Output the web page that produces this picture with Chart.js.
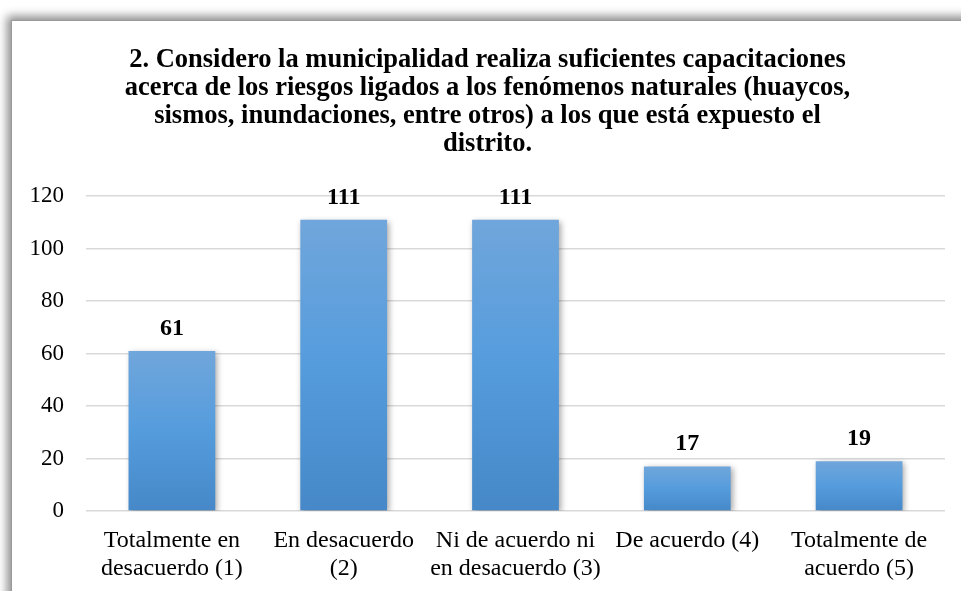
<!DOCTYPE html>
<html>
<head>
<meta charset="utf-8">
<script src="https://cdn.jsdelivr.net/npm/chart.js@4"></script>
<style>
  html, body { margin: 0; padding: 0; background: #fff; }
  body { width: 961px; height: 591px; position: relative; overflow: hidden; }
  /* frame with the soft shadow on top / left */
  #frame {
    position: absolute; left: 11px; top: 20px; width: 1000px; height: 700px;
    border: 1px solid #9a9a9a; background: #fff;
    box-shadow: -4px -4px 9px rgba(0,0,0,0.45);
  }
  #wrap { position: absolute; left: 0; top: 0; width: 961px; height: 591px; }
</style>
</head>
<body>
<div id="frame"></div>
<div id="wrap"><canvas id="chart" width="961" height="591"></canvas></div>
<script>
// chart data
const titleLines = [
  '2. Considero la municipalidad realiza suficientes capacitaciones',
  'acerca de los riesgos ligados a los fenómenos naturales (huaycos,',
  'sismos, inundaciones, entre otros) a los que está expuesto el',
  'distrito.'
];
const categories = [
  ['Totalmente en', 'desacuerdo (1)'],
  ['En desacuerdo', '(2)'],
  ['Ni de acuerdo ni', 'en desacuerdo (3)'],
  ['De acuerdo (4)'],
  ['Totalmente de', 'acuerdo (5)']
];
const counts = [61, 111, 111, 17, 19];
const yTicks = [0, 20, 40, 60, 80, 100, 120];

const FONT = '"Liberation Serif", "DejaVu Serif", serif';

// vertical gradient for each bar, from its top down to the baseline
function barGradient(context) {
  const chart = context.chart;
  const y = chart.scales.y;
  if (!y || context.raw == null) return '#559bdb';
  const top = y.getPixelForValue(context.raw);
  const base = y.getPixelForValue(0);
  if (!isFinite(top) || !isFinite(base) || top === base) return '#559bdb';
  const g = chart.ctx.createLinearGradient(0, top, 0, base);
  g.addColorStop(0, '#70a6db');
  g.addColorStop(0.5, '#559cdd');
  g.addColorStop(1, '#4688c8');
  return g;
}

// soft drop shadow under the bars
const barShadow = {
  id: 'barShadow',
  beforeDatasetsDraw(chart) {
    const ctx = chart.ctx;
    ctx.save();
    ctx.shadowColor = 'rgba(0,0,0,0.35)';
    ctx.shadowBlur = 6;
    ctx.shadowOffsetX = 2;
    ctx.shadowOffsetY = 2;
  },
  afterDatasetsDraw(chart) {
    chart.ctx.restore();
  }
};

// nudge the title a little to the right, like the original
const titleNudge = {
  id: 'titleNudge',
  afterLayout(chart) {
    const t = chart.titleBlock;
    if (t) { t.left += 4; t.right += 4; }
  }
};

// bold value above every bar
const valueLabels = {
  id: 'valueLabels',
  afterDatasetsDraw(chart) {
    const ctx = chart.ctx;
    const meta = chart.getDatasetMeta(0);
    ctx.save();
    ctx.font = 'bold 24px ' + FONT;
    ctx.fillStyle = '#000';
    ctx.textAlign = 'center';
    ctx.textBaseline = 'alphabetic';
    meta.data.forEach((bar, i) => {
      ctx.fillText(String(counts[i]), bar.x, bar.y - 16);
    });
    ctx.restore();
  }
};

function draw() {
  new Chart(document.getElementById('chart'), {
    type: 'bar',
    data: {
      labels: categories,
      datasets: [{
        data: counts,
        backgroundColor: barGradient,
        borderWidth: 0,
        categoryPercentage: 1,
        barPercentage: 0.505
      }]
    },
    options: {
      responsive: false,
      animation: false,
      devicePixelRatio: 1,
      layout: { padding: { left: 22, right: 16, top: 0, bottom: 0 } },
      plugins: {
        legend: { display: false },
        tooltip: { enabled: false },
        title: {
          display: true,
          text: titleLines,
          color: '#000',
          font: { family: FONT, size: 26.5, weight: 'bold', lineHeight: 28 / 26.5 },
          padding: { top: 46, bottom: 38 }
        }
      },
      scales: {
        x: {
          grid: { display: false, drawTicks: false },
          border: { display: false },
          ticks: {
            color: '#000',
            font: { family: FONT, size: 24, lineHeight: 1.17 },
            padding: 16,
            maxRotation: 0,
            autoSkip: false
          },
          afterFit(scale) { scale.height = 80; }
        },
        y: {
          min: 0,
          max: 120,
          afterBuildTicks(scale) { scale.ticks = yTicks.map(v => ({ value: v })); },
          grid: { color: '#d9d9d9', lineWidth: 1.5, drawTicks: false },
          border: { display: false },
          ticks: {
            color: '#000',
            font: { family: FONT, size: 23 },
            padding: 22
          },
          afterFit(scale) { scale.width = 64; }
        }
      }
    },
    plugins: [titleNudge, barShadow, valueLabels]
  });
}

Promise.all([
  document.fonts.load('24px "Liberation Serif"'),
  document.fonts.load('bold 24px "Liberation Serif"')
]).then(draw, draw);
</script>
</body>
</html>
